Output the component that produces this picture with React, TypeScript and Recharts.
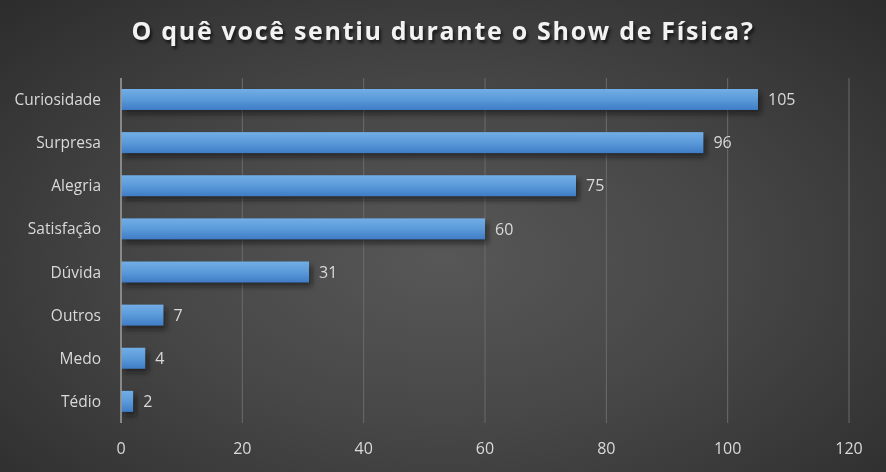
import { Bar, BarChart, CartesianGrid, LabelList, XAxis, YAxis } from "recharts";

const categories = ["Curiosidade", "Surpresa", "Alegria", "Satisfação", "Dúvida", "Outros", "Medo", "Tédio"];
const respostas = [105, 96, 75, 60, 31, 7, 4, 2];
const xTicks = [0, 20, 40, 60, 80, 100, 120];

const data = categories.map((nome, i) => ({ nome, valor: respostas[i] }));

const FONT = "'Open Sans', 'Noto Sans', sans-serif";

function GlossBar(props: any) {
  const { x, y, width, height } = props;
  if (!width || width <= 0) return null;
  return (
    <g>
      <rect x={x + 3} y={y + 4} width={width} height={height} fill="#111" opacity={0.55} filter="url(#bar-shadow)" />
      <rect x={x} y={y} width={width} height={height} fill="url(#bar-fill)" />
    </g>
  );
}

export default function App() {
  return (
    <div
      style={{
        position: "fixed",
        left: 0,
        top: 0,
        width: 886,
        height: 472,
        background: "radial-gradient(ellipse at 50% 55%, #575757 0%, #474747 45%, #2c2c2c 100%)",
        fontFamily: FONT,
      }}
    >
      <div
        style={{
          position: "absolute",
          top: 13,
          left: 0,
          width: 886,
          textAlign: "center",
          color: "#f2f2f2",
          fontSize: 25,
          fontWeight: 700,
          letterSpacing: 1.7,
          textShadow: "2px 3px 3px rgba(0,0,0,0.6)",
        }}
      >
        O quê você sentiu durante o Show de Física?
      </div>
      <BarChart
        width={886}
        height={472}
        data={data}
        layout="vertical"
        margin={{ top: 78, right: 37, bottom: 0, left: 0 }}
        barCategoryGap={11}
      >
        <defs>
          <linearGradient id="bar-fill" x1="0" y1="0" x2="0" y2="1">
            <stop offset="0%" stopColor="#72aee6" />
            <stop offset="50%" stopColor="#5b9ad9" />
            <stop offset="100%" stopColor="#3f7cc6" />
          </linearGradient>
          <filter id="bar-shadow" x="-10%" y="-50%" width="130%" height="200%">
            <feGaussianBlur stdDeviation="2.5" />
          </filter>
        </defs>
        <CartesianGrid horizontal={false} stroke="#6b6b6b" strokeWidth={1} />
        <XAxis
          type="number"
          domain={[0, 120]}
          ticks={xTicks}
          height={49}
          axisLine={false}
          tickLine={false}
          tickMargin={14}
          tick={{ fill: "#d9d9d9", fontSize: 16, fontFamily: FONT }}
        />
        <YAxis
          type="category"
          dataKey="nome"
          width={121}
          axisLine={{ stroke: "#9a9a9a", strokeWidth: 1.5 }}
          tickLine={false}
          tickMargin={14}
          tick={{ fill: "#d9d9d9", fontSize: 15.5, fontFamily: FONT }}
        />
        <Bar dataKey="valor" shape={GlossBar} isAnimationActive={false}>
          <LabelList
            dataKey="valor"
            position="right"
            offset={10}
            fill="#d9d9d9"
            style={{ fontSize: 16, fontFamily: FONT }}
          />
        </Bar>
      </BarChart>
    </div>
  );
}
